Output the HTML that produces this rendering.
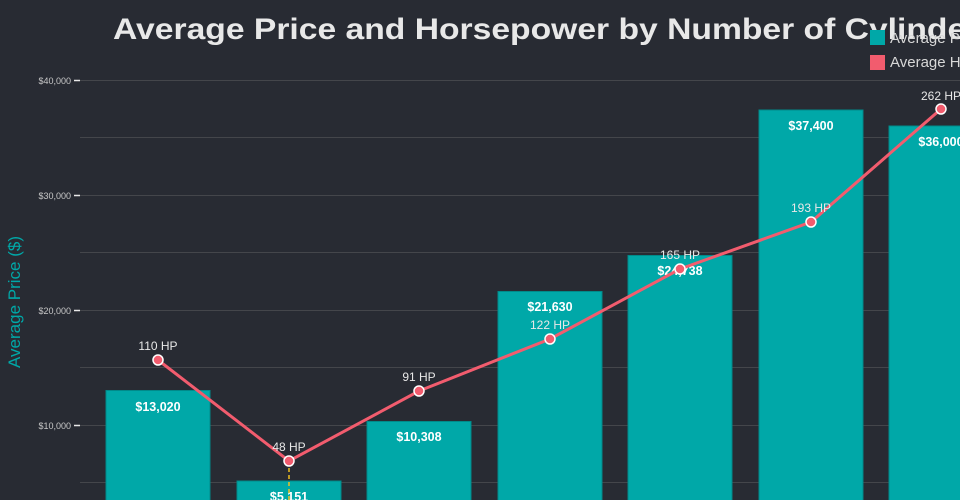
<!DOCTYPE html>
<html><head><meta charset="utf-8"><style>
html,body{margin:0;padding:0;background:#282b33;width:960px;height:500px;overflow:hidden;}
svg{display:block;font-family:"Liberation Sans",sans-serif;overflow:hidden;}
</style></head><body>
<svg width="960" height="500" viewBox="0 0 960 500">
<rect width="960" height="500" fill="#282b33"/>
<g stroke="#44464b" stroke-width="1">
<line x1="80" y1="80.5" x2="960" y2="80.5"/>
<line x1="80" y1="137.5" x2="960" y2="137.5"/>
<line x1="80" y1="195.5" x2="960" y2="195.5"/>
<line x1="80" y1="252.5" x2="960" y2="252.5"/>
<line x1="80" y1="310.5" x2="960" y2="310.5"/>
<line x1="80" y1="367.5" x2="960" y2="367.5"/>
<line x1="80" y1="425.5" x2="960" y2="425.5"/>
<line x1="80" y1="482.5" x2="960" y2="482.5"/>
</g>
<g stroke="#e8e8e8" stroke-width="1.5">
<line x1="74" y1="80.5" x2="80" y2="80.5"/>
<line x1="74" y1="195.5" x2="80" y2="195.5"/>
<line x1="74" y1="310.5" x2="80" y2="310.5"/>
<line x1="74" y1="425.5" x2="80" y2="425.5"/>
</g>
<g fill="#c8c8c8" font-size="9" text-anchor="end">
<text x="71" y="84">$40,000</text>
<text x="71" y="199">$30,000</text>
<text x="71" y="314">$20,000</text>
<text x="71" y="429">$10,000</text>
</g>
<text transform="translate(20,302) rotate(-90)" fill="#00a8a8" font-size="17" text-anchor="middle">Average Price ($)</text>
<g fill="#00a8a8" stroke="#008a8a" stroke-width="1">
<rect x="106" y="390.5" width="104" height="112"/>
<rect x="237" y="481" width="104" height="22"/>
<rect x="367" y="421.5" width="104" height="82"/>
<rect x="498" y="291.5" width="104" height="212"/>
<rect x="628" y="255.5" width="104" height="248"/>
<rect x="759" y="110" width="104" height="393"/>
<rect x="889" y="126" width="104" height="377"/>
</g>
<g fill="#ffffff" font-size="12.5" font-weight="bold" text-anchor="middle">
<text x="158" y="411">$13,020</text>
<text x="289" y="501">$5,151</text>
<text x="419" y="441">$10,308</text>
<text x="550" y="311">$21,630</text>
<text x="680" y="275">$24,738</text>
<text x="811" y="130">$37,400</text>
<text x="941" y="146">$36,000</text>
</g>
<line x1="289" y1="468" x2="289" y2="500" stroke="#f0c020" stroke-width="1.5" stroke-dasharray="4,3"/>
<polyline points="158,360 289,461 419,391 550,339 680,269 811,222 941,109" fill="none" stroke="#f25c6e" stroke-width="3"/>
<g fill="#f25c6e" stroke="#ffffff" stroke-width="1.5">
<circle cx="158" cy="360" r="5"/><circle cx="289" cy="461" r="5"/><circle cx="419" cy="391" r="5"/>
<circle cx="550" cy="339" r="5"/><circle cx="680" cy="269" r="5"/><circle cx="811" cy="222" r="5"/><circle cx="941" cy="109" r="5"/>
</g>
<g fill="#e8e8e8" font-size="12" text-anchor="middle">
<text x="158" y="350">110 HP</text><text x="289" y="451">48 HP</text><text x="419" y="381">91 HP</text>
<text x="550" y="329">122 HP</text><text x="680" y="259">165 HP</text><text x="811" y="212">193 HP</text><text x="941" y="100">262 HP</text>
</g>
<text x="113" y="39" fill="#e8e8e8" font-size="30" font-weight="bold" textLength="885" lengthAdjust="spacingAndGlyphs">Average Price and Horsepower by Number of Cylinders</text>
<rect x="870" y="30" width="15" height="15" fill="#00a8a8"/>
<rect x="870" y="55" width="15" height="15" fill="#f25c6e"/>
<g fill="#d8d8d8" font-size="15">
<text x="890" y="43">Average Price</text>
<text x="890" y="67">Average Horsepower</text>
</g>
</svg>
</body></html>
